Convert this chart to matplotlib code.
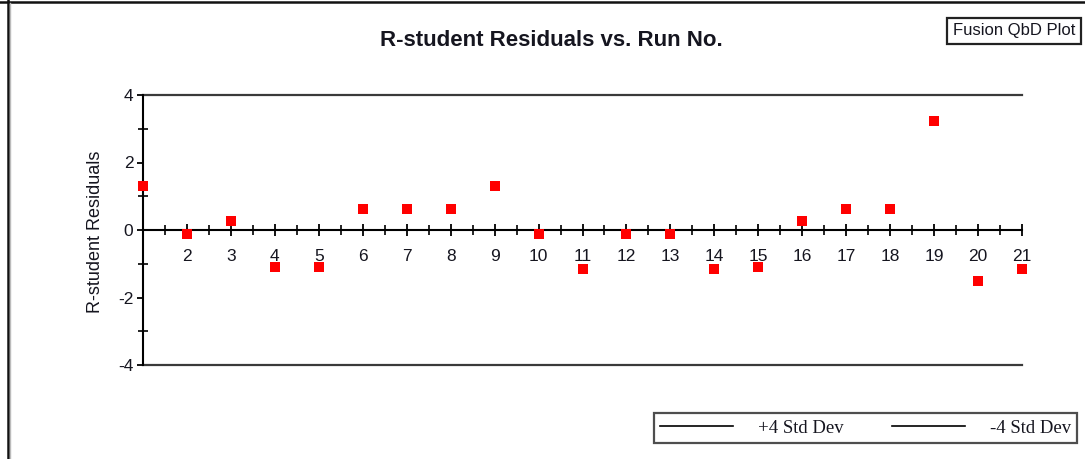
import matplotlib
matplotlib.use("Agg")
import matplotlib.pyplot as plt
from matplotlib.lines import Line2D
from matplotlib.ticker import MultipleLocator, FixedLocator

plt.rcParams["axes.unicode_minus"] = False

# Run numbers and their R-student residuals
runs = list(range(1, 22))
residuals = [1.29, -0.12, 0.26, -1.10, -1.10, 0.62, 0.62, 0.62, 1.30, -0.12,
             -1.16, -0.12, -0.12, -1.15, -1.09, 0.26, 0.62, 0.62, 3.22, -1.50, -1.15]
upper_limit = 4
lower_limit = -4
xtick_labels = [str(r) for r in range(2, 22)]
ytick_values = [-4, -2, 0, 2, 4]

W, H = 1085, 459
fig = plt.figure(figsize=(W / 100, H / 100), dpi=100)
fig.patch.set_facecolor("white")

def px(x0, y0, x1, y1):
    return [x0 / W, 1 - y1 / H, (x1 - x0) / W, (y1 - y0) / H]

ax = fig.add_axes(px(143, 95, 1022, 365))
ax.set_xlim(1, 21)
ax.set_ylim(-4, 4)

sans = "Liberation Sans"
serif = "Liberation Serif"
txt_col = "#15151f"

# Control limits
hi = ax.axhline(upper_limit, color="#3a3a3a", lw=1.6, label="+4 Std Dev", clip_on=False)
lo = ax.axhline(lower_limit, color="#3a3a3a", lw=1.6, label="-4 Std Dev", clip_on=False)

# Residual points
ax.plot(runs, residuals, linestyle="none", marker="s", markersize=7.2,
        color="#ff0000", markeredgewidth=0, clip_on=False, zorder=5)

# Spines: left axis and a horizontal axis through zero
for s in ("top", "right"):
    ax.spines[s].set_visible(False)
ax.spines["bottom"].set_position(("data", 0))
ax.spines["bottom"].set_linewidth(1.5)
ax.spines["left"].set_linewidth(1.5)
ax.spines["bottom"].set_color("black")
ax.spines["left"].set_color("black")

ax.xaxis.set_major_locator(FixedLocator(list(range(2, 22))))
ax.xaxis.set_minor_locator(FixedLocator([r + 0.5 for r in range(1, 21)]))
ax.set_xticklabels(xtick_labels)
ax.tick_params(axis="x", which="major", direction="inout", length=8, width=1.3,
               pad=10, labelsize=12.5, labelcolor=txt_col, color="black")
ax.tick_params(axis="x", which="minor", direction="inout", length=7, width=1.2,
               color="black")

ax.yaxis.set_major_locator(FixedLocator(ytick_values))
ax.yaxis.set_minor_locator(MultipleLocator(1))
ax.tick_params(axis="y", which="major", direction="out", length=4, width=1.3,
               pad=3, labelsize=12.5, labelcolor=txt_col, color="black")
ax.tick_params(axis="y", which="minor", direction="inout", length=7, width=1.2,
               color="black")
for lab in ax.get_xticklabels() + ax.get_yticklabels():
    lab.set_fontfamily(sans)

# Texts
fig.text(551 / W, 1 - 40 / H, "R-student Residuals vs. Run No.", ha="center", va="center",
         fontsize=16, fontweight="bold", family=sans, color=txt_col)
fig.text(95 / W, 1 - 232 / H, "R-student Residuals", ha="center", va="center",
         rotation=90, fontsize=13, family=sans, color=txt_col)
fig.text(1014 / W, 1 - 31 / H, "Fusion QbD Plot", ha="center", va="center",
         fontsize=12, family=sans, color=txt_col,
         bbox=dict(boxstyle="square,pad=0.32", facecolor="white",
                   edgecolor="#222222", linewidth=1.6))

# Legend for the limit lines
leg = fig.legend(handles=[hi, lo], loc="center", ncol=2,
                 bbox_to_anchor=((653 + 1078) / 2 / W, 1 - 428 / H),
                 prop={"family": serif, "size": 13.5}, frameon=True, fancybox=False,
                 handlelength=3.9, handletextpad=1.3, columnspacing=2.6,
                 borderpad=0.32, borderaxespad=0)
leg.get_frame().set_edgecolor("#222222")
leg.get_frame().set_linewidth(1.6)
for t in leg.get_texts():
    t.set_color(txt_col)
for h in leg.legend_handles:
    h.set_color("black")
    h.set_linewidth(1.2)

# Outer frame edges
fig.add_artist(Line2D([7.5 / W, 7.5 / W], [0, 1], color="#111111", lw=1.8))
fig.add_artist(Line2D([0, 1], [1 - 1.5 / H, 1 - 1.5 / H], color="#111111", lw=1.8))
fig.add_artist(Line2D([9.5 / W, 9.5 / W], [0, 1 - 3 / H], color="#bbbbbb", lw=1.0))

fig.savefig("out.png", dpi=100)
